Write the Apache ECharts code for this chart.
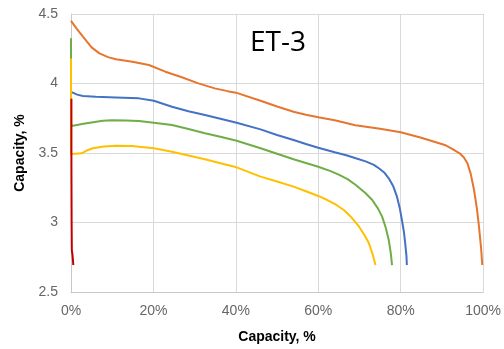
<!DOCTYPE html>
<html>
<head>
<meta charset="utf-8">
<script src="https://cdn.jsdelivr.net/npm/echarts@6/dist/echarts.min.js"></script>
<style>html,body{margin:0;padding:0;background:#fff;}#c{width:504px;height:349px;}</style>
</head>
<body>
<div id="c"></div>
<script>
var xTicks = [0, 20, 40, 60, 80, 100];
var yTicks = [2.5, 3, 3.5, 4, 4.5];
var seriesNames = ["Orange", "Blue", "Green", "Yellow", "Red"];

var orange = [[0,4.45],[0.3,4.44],[1.5,4.39],[2.9,4.337],[5,4.26],[6.9,4.217],[9,4.19],[10.9,4.174],[14.9,4.157],[18.9,4.133],[22.9,4.085],[26.9,4.045],[30.9,4.001],[34.9,3.965],[38,3.945],[40,3.934],[46,3.876],[50,3.835],[54,3.797],[57,3.775],[60,3.757],[64,3.735],[69,3.70],[75,3.675],[80,3.649],[85,3.61],[90.7,3.558],[92.5,3.53],[94.3,3.498],[95.3,3.47],[96.2,3.426],[97,3.35],[97.8,3.234],[98.5,3.1],[99,2.97],[99.5,2.82],[99.8,2.694]];
var blue = [[0,3.94],[0.3,3.934],[1.5,3.92],[2.9,3.91],[6,3.905],[10.9,3.90],[16.5,3.893],[20.1,3.876],[24.5,3.833],[28.5,3.80],[32.5,3.773],[36.5,3.745],[40.2,3.718],[46,3.67],[50,3.63],[54,3.594],[57,3.565],[60,3.538],[64,3.505],[67,3.482],[69.1,3.462],[71.5,3.44],[73.5,3.415],[74.7,3.39],[76,3.36],[77.1,3.318],[78.2,3.26],[79.1,3.186],[79.8,3.10],[80.3,3.018],[80.8,2.93],[81.1,2.85],[81.4,2.76],[81.5,2.694]];
var green = [[0,4.325],[0,3.70],[0.5,3.696],[3,3.71],[5,3.72],[7.7,3.732],[10,3.735],[13.3,3.733],[16.5,3.73],[20.1,3.718],[24.5,3.701],[28.5,3.672],[32.5,3.642],[36.5,3.615],[40.2,3.588],[46,3.534],[50,3.495],[54,3.455],[57,3.428],[60,3.401],[63,3.37],[65.1,3.342],[67.2,3.31],[69.1,3.27],[71.5,3.21],[73.1,3.162],[74.5,3.10],[75.5,3.042],[76.4,2.96],[77.1,2.874],[77.6,2.78],[77.9,2.694]];
var yellow = [[0,4.18],[0,3.493],[1,3.495],[2.6,3.498],[4,3.52],[5.3,3.534],[8,3.547],[10.9,3.553],[14.9,3.55],[16.5,3.545],[20.1,3.534],[24.5,3.509],[28.5,3.482],[32.5,3.455],[36.5,3.425],[40.2,3.397],[46,3.33],[50,3.295],[54,3.258],[57,3.225],[60,3.191],[62.3,3.16],[64.4,3.126],[66.2,3.09],[67.9,3.042],[69.9,2.97],[71.2,2.91],[72.3,2.85],[73.2,2.77],[73.9,2.694]];
var red = [[0.1,3.89],[0.1,3.4],[0.15,3.0],[0.2,2.8],[0.35,2.77],[0.5,2.72],[0.55,2.694]];

var colors = ["#E6762F", "#4472C4", "#70AD47", "#FFC000", "#C00000"];
var datas = [orange, blue, green, yellow, red];

var chart = echarts.init(document.getElementById('c'), null, {renderer: 'canvas'});
chart.setOption({
  animation: false,
  backgroundColor: '#fff',
  grid: {left: 71, right: 15, top: 14, bottom: 57},
  graphic: [{
    type: 'text', left: 250, top: 29,
    style: {text: 'ET-3', fontSize: 28, fontFamily: 'Open Sans', fill: '#000'}
  }],
  xAxis: {
    type: 'value', min: xTicks[0], max: xTicks[xTicks.length - 1], interval: 20,
    name: 'Capacity, %', nameLocation: 'middle', nameGap: 38,
    nameTextStyle: {fontSize: 14, fontWeight: 'bold', color: '#000', fontFamily: 'Liberation Sans'},
    axisLine: {show: true, lineStyle: {color: '#c8c8c8', width: 1}},
    axisTick: {show: false},
    axisLabel: {formatter: '{value}%', color: '#666666', fontSize: 14, margin: 12, fontFamily: 'Liberation Sans'},
    splitLine: {show: true, lineStyle: {color: '#d9d9d9', width: 1}}
  },
  yAxis: {
    type: 'value', min: yTicks[0], max: yTicks[yTicks.length - 1], interval: 0.5,
    name: 'Capacity, %', nameLocation: 'middle', nameGap: 40,
    nameTextStyle: {fontSize: 14, fontWeight: 'bold', color: '#000', fontFamily: 'Liberation Sans'},
    axisLine: {show: true, lineStyle: {color: '#c8c8c8', width: 1}},
    axisTick: {show: false},
    axisLabel: {color: '#666666', fontSize: 14, margin: 13, fontFamily: 'Liberation Sans'},
    splitLine: {show: true, lineStyle: {color: '#d9d9d9', width: 1}}
  },
  series: datas.map(function (d, i) {
    return {
      name: seriesNames[i], type: 'line', data: d, showSymbol: false,
      lineStyle: {color: colors[i], width: 2}, itemStyle: {color: colors[i]}, z: 2 + i
    };
  })
});
</script>
</body>
</html>
